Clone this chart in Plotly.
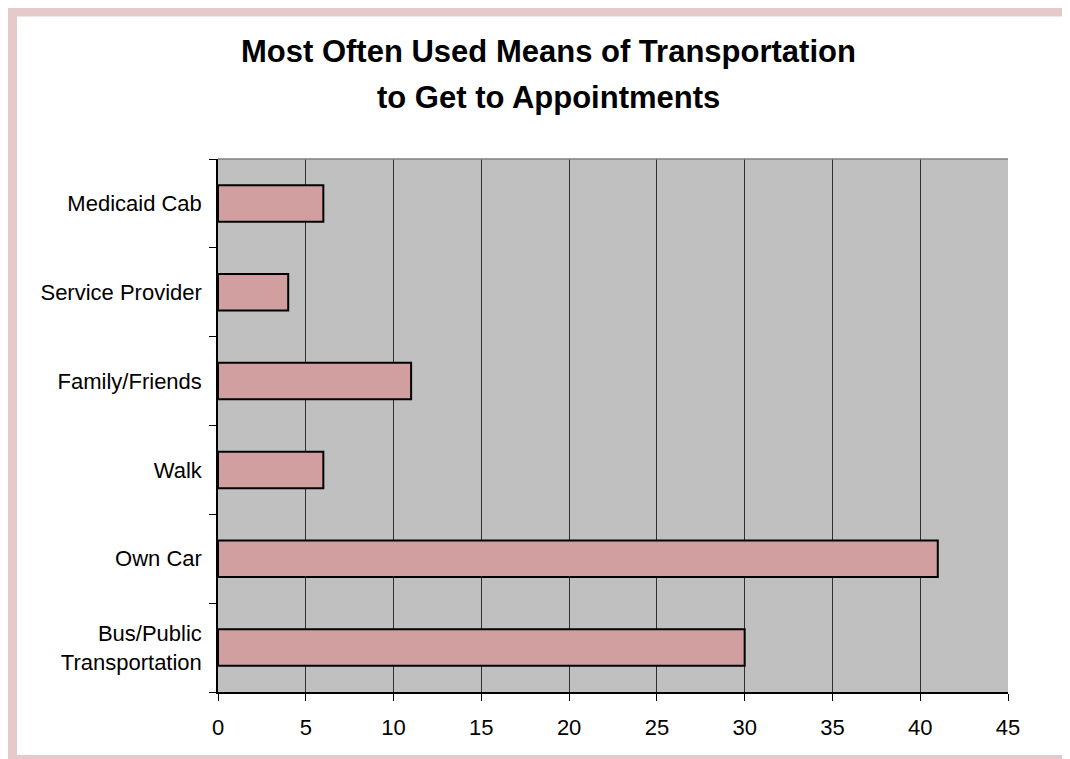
import plotly.graph_objects as go

# data
categories = ["Bus/Public<br>Transportation", "Own Car", "Walk",
              "Family/Friends", "Service Provider", "Medicaid Cab"]
counts = [30, 41, 6, 11, 4, 6]
x_ticks = [0, 5, 10, 15, 20, 25, 30, 35, 40, 45]

OFF = 8  # the page body margin shifts the figure by 8px
W, H = 1070 - OFF, 759 - OFF
L, R, T, B = 218 - OFF, 1008 - OFF, 159 - OFF, 692 - OFF   # plot area in figure pixels


def px(x):
    return (x - OFF - L) / (R - L)


def py(y):
    return (B - (y - OFF)) / (B - T)


FONT = "Liberation Sans, Arial, sans-serif"

fig = go.Figure(go.Bar(
    y=categories, x=counts, orientation="h",
    marker=dict(color="#D29FA0", line=dict(color="black", width=2)),
    width=0.41,
))

fig.update_layout(
    width=W, height=H,
    margin=dict(l=L, r=W - R, t=T, b=H - B),
    paper_bgcolor="white",
    plot_bgcolor="#C0C0C0",
    font=dict(family=FONT, size=22, color="black"),
    showlegend=False,
    annotations=[
        dict(text="<b>Most Often Used Means of Transportation</b>",
             x=px(548), y=py(52), xref="paper", yref="paper",
             showarrow=False, font=dict(size=31), xanchor="center", yanchor="middle"),
        dict(text="<b>to Get to Appointments</b>",
             x=px(548), y=py(97), xref="paper", yref="paper",
             showarrow=False, font=dict(size=31), xanchor="center", yanchor="middle"),
    ],
    shapes=[
        # pink frame around the chart
        dict(type="rect", xref="paper", yref="paper",
             x0=px(12.5), x1=px(1071.5), y0=py(759.5), y1=py(12),
             line=dict(color="#E6CACB", width=9), fillcolor="rgba(0,0,0,0)",
             layer="above"),
        # grey top edge of the plot area
        dict(type="line", xref="paper", yref="paper",
             x0=0, x1=1, y0=1, y1=1, line=dict(color="#808080", width=1.5)),
    ],
)

fig.update_xaxes(
    range=[0, 45], tickvals=x_ticks,
    showgrid=True, gridcolor="#303030", gridwidth=1,
    zeroline=False,
    showline=True, linecolor="black", linewidth=1.5,
    ticks="outside", ticklen=7, tickcolor="black", tickwidth=1,
    ticklabelstandoff=8,
)
fig.update_yaxes(
    type="category", tickson="boundaries",
    showgrid=False, zeroline=False,
    showline=True, linecolor="black", linewidth=1.5,
    ticks="outside", ticklen=7, tickcolor="black", tickwidth=1,
    ticklabelstandoff=10, tickfont=dict(size=22),
)

fig.write_html("out.html")
